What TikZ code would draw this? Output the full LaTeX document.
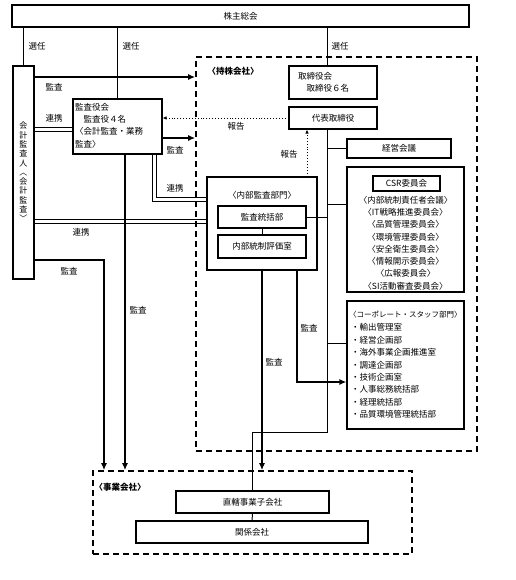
\documentclass[tikz,border=0pt]{standalone}
\usepackage{fontspec}
\setmainfont{Noto Sans CJK JP}
\newfontfamily\vertfont[RawFeature={+vert}]{Noto Sans CJK JP}
\usetikzlibrary{arrows.meta}
\begin{document}
\begin{tikzpicture}[x=1pt,y=-1pt, font=\fontsize{8.5}{12.3}\selectfont,
  box/.style={draw, line width=1.1pt, inner sep=0pt},
  lbl/.style={inner sep=0pt},
  thin/.style={line width=1pt},
  dline/.style={line width=0.8pt},
  thickarrow/.style={line width=2.2pt, -{Latex[length=7pt,width=6pt]}},
  dotarrow/.style={dotted, line width=0.9pt, -{Latex[length=4pt,width=3.5pt]}},
  region/.style={draw, dash pattern=on 6pt off 4pt, line width=1.7pt, inner sep=0pt},
]
\useasboundingbox (0,0) rectangle (515,580);

% regions
\node[region, minimum width=281, minimum height=394] (hold) at (336.5,254) {};
\node[lbl, font=\fontsize{8.5}{12.3}\selectfont\bfseries] (holdl) at (233,71) {〈持株会社〉};
\node[region, minimum width=319, minimum height=83] (jg) at (252.5,512.5) {};
\node[lbl, font=\fontsize{8.5}{12.3}\selectfont\bfseries] (jgl) at (120,487) {〈事業会社〉};

% boxes
\node[box, minimum width=457, minimum height=22] (sh) at (240.5,16) {株主総会};
\node[box, minimum width=21, minimum height=213] (kk) at (23.5,172.5) {};
\node[lbl, align=center, font=\vertfont\fontsize{8}{9.3}\selectfont] (kktext) at (23.5,172) {会\\計\\監\\査\\人\\〈\\会\\計\\監\\査\\〉};
\node[box, minimum width=89, minimum height=55] (ks) at (117.5,126.5) {};
\node[lbl, anchor=west, align=left] (kstext) at (75,125.5) {監査役会\\　監査役４名\\〈会計監査・業務\\監査〉};
\node[box, minimum width=88, minimum height=33] (tb) at (333,82.5) {};
\node[lbl, anchor=west, align=left] (tbtext) at (298,82.5) {取締役会\\　取締役６名};
\node[box, minimum width=88, minimum height=22] (dh) at (333,118) {代表取締役};
\node[box, minimum width=104, minimum height=19] (km) at (399,148.5) {経営会議};
\node[box, minimum width=117, minimum height=125] (csr) at (405.5,229.5) {};
\node[box, minimum width=67, minimum height=15] (csrh) at (406.5,183.5) {CSR委員会};
\node[lbl, align=center] (csrl) at (405.5,243) {〈内部統制責任者会議〉\\〈IT戦略推進委員会〉\\〈品質管理委員会〉\\〈環境管理委員会〉\\〈安全衛生委員会〉\\〈情報開示委員会〉\\〈広報委員会〉\\〈SI活動審査委員会〉};
\node[box, minimum width=117, minimum height=128] (corp) at (405.5,365) {};
\node[lbl, anchor=west, font=\fontsize{7.5}{12.4}\selectfont] (corph) at (349,315) {〈コーポレート・スタッフ部門〉};
\node[lbl, anchor=west, align=left, font=\fontsize{8.5}{12.4}\selectfont] (corpl) at (351,371) {・輸出管理室\\・経営企画部\\・海外事業企画推進室\\・調達企画部\\・技術企画室\\・人事総務統括部\\・経理統括部\\・品質環境管理統括部};
\node[box, minimum width=110, minimum height=93] (nb) at (262,223.5) {};
\node[lbl] (nbh) at (262,195) {〈内部監査部門〉};
\node[box, minimum width=88, minimum height=22] (kt) at (262,217) {監査統括部};
\node[box, minimum width=88, minimum height=23] (nt) at (262,246.5) {内部統制評価室};
\node[box, minimum width=153, minimum height=22] (ck) at (252.5,502) {直轄事業子会社};
\node[box, minimum width=232, minimum height=22] (kr) at (252,532) {関係会社};

% helper coordinates
\coordinate (y77) at (0,77);
\coordinate (y127) at (0,127);
\coordinate (y131) at (0,131);
\coordinate (y138) at (0,138);
\coordinate (y219) at (0,219);
\coordinate (y223) at (0,223);
\coordinate (y204) at (0,204);
\coordinate (y343) at (0,343);
\coordinate (x125) at (125,0);
\coordinate (x307) at (307,0);
\coordinate (x327) at (327,0);
\coordinate (x297) at (297,0);
\coordinate (q1) at (152.5,201);
\coordinate (q2) at (156.5,197);
\coordinate (p2) at (104,260);
\coordinate (p3) at (327,432);
\coordinate (p4) at (297,382);

% 選任
\draw[thin] (sh.south -| kk.north) -- (kk.north);
\draw[thin] (sh.south -| ks.north) -- (ks.north);
\draw[thin] (sh.south -| x327) -- (tb.north -| x327);
\node[lbl] (sn1) at (37,46) {選任};
\node[lbl] (sn2) at (131,46) {選任};
\node[lbl] (sn3) at (340,46) {選任};

% 会計監査人 connectors
\draw[thickarrow] (kk.east |- y77) -- (hold.west |- y77);
\node[lbl] (la1) at (54,87) {監査};
\draw[dline] (kk.east |- y127) -- (ks.west |- y127);
\draw[dline] (kk.east |- y131) -- (ks.west |- y131);
\node[lbl] (lr1) at (54,118) {連携};
\draw[dline] (kk.east |- y219) -- (nb.west |- y219);
\draw[dline] (kk.east |- y223) -- (nb.west |- y223);
\node[lbl] (lr2) at (81,232) {連携};
\draw[thickarrow] (kk.east |- p2) -- (p2) -- (p2 |- jg.north);
\node[lbl] (la2) at (69,271) {監査};

% 監査役会 connectors
\draw[dotarrow] (dh.west) -- (dh.west -| ks.east);
\node[lbl] (lh1) at (236,126) {報告};
\draw[thickarrow] (ks.east |- y138) -- (hold.west |- y138);
\node[lbl] (la3) at (175,150) {監査};
\draw[dline] (ks.south -| q1) -- (q1) -- (q1 -| nb.west);
\draw[dline] (ks.south -| q2) -- (q2) -- (q2 -| nb.west);
\node[lbl] (lr3) at (175,188) {連携};
\draw[thickarrow] (ks.south -| x125) -- (jg.north -| x125);
\node[lbl] (la4) at (138,310) {監査};

% 代表取締役 tree
\draw[thin] (dh.south -| x327) -- (p3) -- (p3 -| ck.north) -- (ck.north);
\draw[thin] (x327 |- km.west) -- (km.west);
\draw[thin] (x327 |- y204) -- (csr.west |- y204);
\draw[thin] (x327 |- y343) -- (corp.west |- y343);
\draw[thin] (kt.east) -- (kt.east -| x327);
\draw[thin] (kt.south) -- (nt.north);
\draw[thin] (ck.south) -- (kr.north);

% 内部監査部門 connectors
\draw[dotarrow] (nb.north -| x307) -- (dh.south -| x307);
\node[lbl] (lh2) at (289,154) {報告};
\draw[thickarrow] (nb.south) -- (nb.south |- jg.north);
\node[lbl] (la5) at (274,362) {監査};
\draw[thickarrow] (nb.south -| x297) -- (p4) -- (p4 -| corp.west);
\node[lbl] (la6) at (309,328) {監査};
\end{tikzpicture}
\end{document}
